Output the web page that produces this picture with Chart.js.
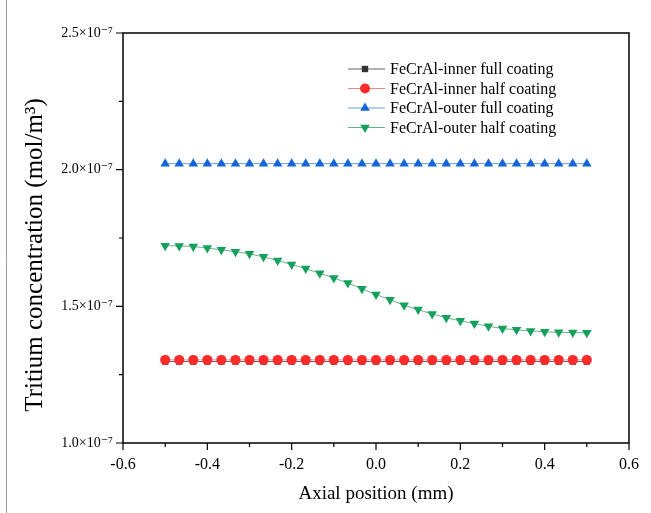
<!DOCTYPE html>
<html>
<head>
    <title></title>
    <script src="https://cdnjs.cloudflare.com/ajax/libs/Chart.js/4.4.1/chart.umd.min.js"></script>
    <style>
        body { margin: 0; background: #fff; }
    </style>
</head>
<body>
    <div style="width: 651px; height: 513px;">
        <canvas id="myChart" width="651" height="513"></canvas>
    </div>
    <script>
        // axial position (mm)
        var positions = [-0.5, -0.4667, -0.4333, -0.4, -0.3667, -0.3333, -0.3, -0.2667, -0.2333, -0.2,
            -0.1667, -0.1333, -0.1, -0.0667, -0.0333, 0, 0.0333, 0.0667, 0.1, 0.1333,
            0.1667, 0.2, 0.2333, 0.2667, 0.3, 0.3333, 0.3667, 0.4, 0.4333, 0.4667, 0.5];

        // tritium concentration, in units of 1e-7 mol/m3
        var innerFull = [1.298, 1.298, 1.298, 1.298, 1.298, 1.298, 1.298, 1.298, 1.298, 1.298,
            1.298, 1.298, 1.298, 1.298, 1.298, 1.298, 1.298, 1.298, 1.298, 1.298,
            1.298, 1.298, 1.298, 1.298, 1.298, 1.298, 1.298, 1.298, 1.298, 1.298, 1.298];
        var innerHalf = [1.304, 1.304, 1.304, 1.304, 1.304, 1.304, 1.304, 1.304, 1.304, 1.304,
            1.304, 1.304, 1.304, 1.304, 1.304, 1.304, 1.304, 1.304, 1.304, 1.304,
            1.304, 1.304, 1.304, 1.304, 1.304, 1.304, 1.304, 1.304, 1.304, 1.304, 1.304];
        var outerFull = [2.022, 2.022, 2.022, 2.022, 2.022, 2.022, 2.022, 2.022, 2.022, 2.022,
            2.022, 2.022, 2.022, 2.022, 2.022, 2.022, 2.022, 2.022, 2.022, 2.022,
            2.022, 2.022, 2.022, 2.022, 2.022, 2.022, 2.022, 2.022, 2.022, 2.022, 2.022];
        var outerHalf = [1.722, 1.721, 1.719, 1.713, 1.707, 1.700, 1.692, 1.681, 1.668, 1.653,
            1.638, 1.621, 1.604, 1.585, 1.564, 1.543, 1.524, 1.504, 1.488, 1.472,
            1.458, 1.447, 1.437, 1.427, 1.419, 1.414, 1.410, 1.407, 1.405, 1.404, 1.403];

        var seriesNames = ["FeCrAl-inner full coating", "FeCrAl-inner half coating",
            "FeCrAl-outer full coating", "FeCrAl-outer half coating"];
        var xTicks = [-0.6, -0.4, -0.2, 0.0, 0.2, 0.4, 0.6];
        var yTicks = [1.0, 1.5, 2.0, 2.5];
        var yTitle = "Tritium concentration (mol/m\u00b3)";

        var serif = "'Liberation Serif', 'DejaVu Serif', serif";

        function pts(values) {
            return values.map(function(v, i) { return {x: positions[i], y: v}; });
        }

        var styles = [
            {color: "#333333", line: "#666666", shape: "rect", radius: 4.5, rot: 0},
            {color: "#ff2b2b", line: "#ee8888", shape: "circle", radius: 5, rot: 0},
            {color: "#1466d6", line: "#6a9ee0", shape: "triangle", radius: 5.5, rot: 0},
            {color: "#15a05c", line: "#66b48c", shape: "triangle", radius: 5.5, rot: 180}
        ];
        var allValues = [innerFull, innerHalf, outerFull, outerHalf];

        var datasets = allValues.map(function(vals, i) {
            var s = styles[i];
            return {
                label: seriesNames[i],
                data: pts(vals),
                borderColor: s.line,
                borderWidth: 1,
                backgroundColor: s.color,
                pointBackgroundColor: s.color,
                pointBorderColor: s.color,
                pointBorderWidth: 0,
                pointStyle: s.shape,
                pointRadius: s.radius,
                pointRotation: s.rot,
                showLine: true,
                order: 4 - i
            };
        });

        // frame, tick marks, y title and legend
        var framePlugin = {
            id: "frame",
            afterDraw: function(chart) {
                var ctx = chart.ctx, a = chart.chartArea;
                var xs = chart.scales.x, ys = chart.scales.y;
                ctx.save();
                ctx.strokeStyle = "#000";
                ctx.lineWidth = 1.5;
                ctx.strokeRect(a.left, a.top, a.right - a.left, a.bottom - a.top);
                ctx.lineWidth = 1.2;
                ctx.beginPath();
                for (var v = -0.6; v <= 0.6001; v += 0.1) {
                    var px = xs.getPixelForValue(v);
                    var major = Math.abs(Math.round(v * 10)) % 2 === 0;
                    ctx.moveTo(px, a.bottom);
                    ctx.lineTo(px, a.bottom + (major ? 7 : 4));
                }
                for (var w = 1.0; w <= 2.5001; w += 0.25) {
                    var py = ys.getPixelForValue(w);
                    var maj = Math.abs(w * 2 - Math.round(w * 2)) < 0.01;
                    ctx.moveTo(a.left, py);
                    ctx.lineTo(a.left - (maj ? 7 : 4), py);
                }
                ctx.stroke();

                // outer image border on the left
                ctx.strokeStyle = "#9a9a9a";
                ctx.lineWidth = 1;
                ctx.beginPath();
                ctx.moveTo(6.5, 0);
                ctx.lineTo(6.5, 513);
                ctx.stroke();

                // y axis title
                ctx.save();
                ctx.translate(35, 255);
                ctx.rotate(-Math.PI / 2);
                ctx.font = "25px " + serif;
                ctx.fillStyle = "#000";
                ctx.textAlign = "center";
                ctx.textBaseline = "middle";
                ctx.fillText(yTitle, 0, 0);
                ctx.restore();

                // legend
                var lx = 348, ly = 69, step = 19.5;
                ctx.font = "16px " + serif;
                ctx.textBaseline = "middle";
                for (var i = 0; i < seriesNames.length; i++) {
                    var y = ly + i * step, s = styles[i];
                    ctx.strokeStyle = s.line;
                    ctx.lineWidth = 1;
                    ctx.beginPath();
                    ctx.moveTo(lx, y);
                    ctx.lineTo(lx + 37, y);
                    ctx.stroke();
                    ctx.fillStyle = s.color;
                    Chart.helpers.drawPoint(ctx, {
                        pointStyle: s.shape, radius: s.radius, rotation: s.rot,
                        borderWidth: 0
                    }, lx + 17, y);
                    ctx.fillStyle = "#000";
                    ctx.fillText(seriesNames[i], lx + 42, y + 1);
                }
                ctx.restore();
            }
        };

        var chart = new Chart(document.getElementById("myChart"), {
            type: "scatter",
            data: {datasets: datasets},
            options: {
                responsive: false,
                animation: false,
                layout: {padding: {left: 0, right: 19, top: 33, bottom: 0}},
                plugins: {legend: {display: false}, tooltip: {enabled: false}},
                scales: {
                    x: {
                        type: "linear",
                        min: -0.6, max: 0.6,
                        afterFit: function(scale) { scale.height = 70; },
                        afterBuildTicks: function(scale) {
                            scale.ticks = xTicks.map(function(v) { return {value: v}; });
                        },
                        grid: {display: false, drawTicks: false},
                        border: {display: false},
                        ticks: {
                            padding: 12,
                            color: "#000",
                            font: {family: serif, size: 16},
                            maxRotation: 0,
                            callback: function(v) { return v.toFixed(1); }
                        },
                        title: {
                            display: true,
                            text: "Axial position (mm)",
                            color: "#000",
                            font: {family: serif, size: 19},
                            padding: {top: 4, bottom: 8}
                        }
                    },
                    y: {
                        type: "linear",
                        min: 1.0, max: 2.5,
                        afterFit: function(scale) { scale.width = 123; },
                        afterBuildTicks: function(scale) {
                            scale.ticks = yTicks.map(function(v) { return {value: v}; });
                        },
                        grid: {display: false, drawTicks: false},
                        border: {display: false},
                        ticks: {
                            padding: 10,
                            color: "#000",
                            font: {family: serif, size: 14},
                            callback: function(v) { return v.toFixed(1) + "\u00d710\u207b\u2077"; }
                        },
                        title: {display: false}
                    }
                }
            },
            plugins: [framePlugin]
        });
    </script>
</body>
</html>
